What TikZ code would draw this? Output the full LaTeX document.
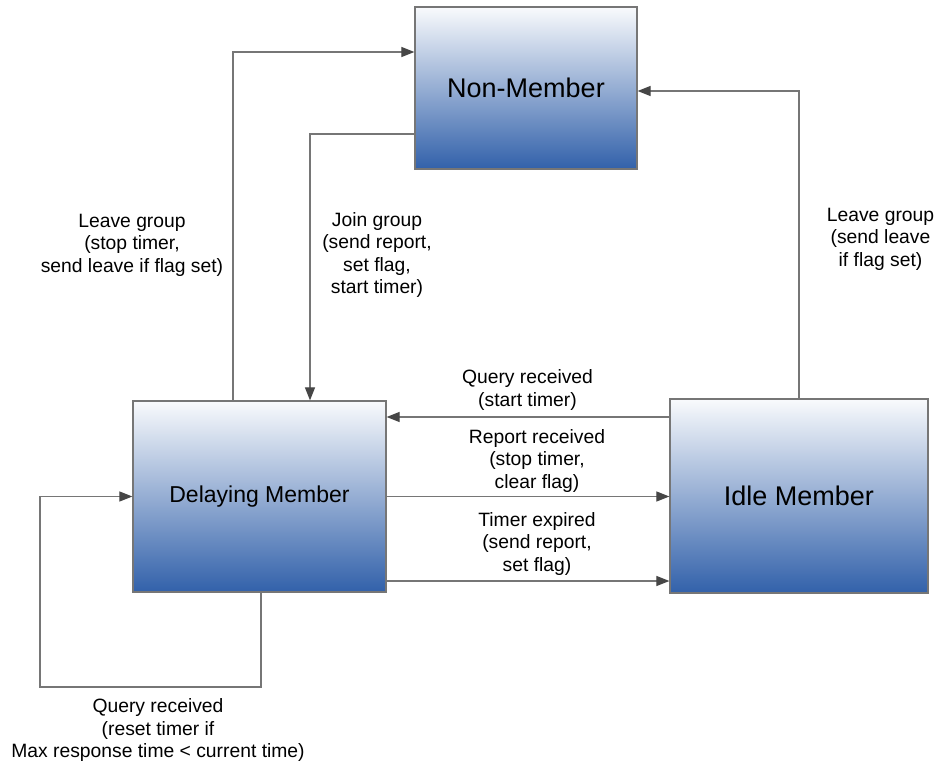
\documentclass[tikz,border=0pt]{standalone}
\usepackage{fontspec}
\setmainfont{Liberation Sans}
\usetikzlibrary{arrows.meta}
\definecolor{boxblue}{RGB}{50,97,170}
\definecolor{wiregray}{RGB}{118,118,118}
\definecolor{tipgray}{RGB}{70,70,70}

\begin{document}
\begin{tikzpicture}[x=1pt,y=-1pt,
    state/.style={draw=wiregray,line width=1.2pt,top color=white!97!boxblue,bottom color=boxblue,inner sep=0pt},
    wire/.style={draw=wiregray,line width=1.1pt,-{Triangle[length=13pt,width=10pt,color=tipgray]}},
    lbl/.style={align=center,font=\fontsize{19.3}{22.5}\selectfont,inner sep=0pt}]
      \path[use as bounding box] (0,0) rectangle (938,764);
      \node[state,minimum width=222pt,minimum height=162pt,font=\fontsize{27}{30}\selectfont] (nm) at (526,88) {Non-Member};
      \node[state,minimum width=253pt,minimum height=191pt,font=\fontsize{23}{26}\selectfont] (dm) at (259.5,496.5) {Delaying Member};
      \node[state,minimum width=258pt,minimum height=194pt,font=\fontsize{27}{30}\selectfont] (im) at (799,496) {Idle Member};
      \coordinate (loopcorner) at (40,687);
      \draw[wire] ([xshift=-26.5pt]dm.north) |- ([yshift=36pt]nm.west);
      \draw[wire] ([yshift=-46pt]nm.west) -| ([xshift=50.5pt]dm.north);
      \draw[wire] (im.north) |- ([yshift=-3pt]nm.east);
      \draw[wire] ([yshift=79pt]im.west) -- ([yshift=79pt]im.west -| dm.east);
      \draw[wire] (dm.east) -- (dm.east -| im.west);
      \draw[wire] ([yshift=-84.5pt]dm.east) -- ([yshift=-84.5pt]dm.east -| im.west);
      \draw[wire] ([xshift=1.5pt]dm.south) |- (loopcorner) |- (dm.west);
      \node[lbl] (leavedm) at (132,245) {Leave group\\(stop timer,\\send leave if flag set)};
      \node[lbl] (joinnm) at (377,255) {Join group\\(send report,\\set flag,\\start timer)};
      \node[lbl] (leaveim) at (880.5,239) {Leave group\\(send leave\\if flag set)};
      \node[lbl] (queryim) at (527.5,390) {Query received\\(start timer)};
      \node[lbl] (reportdm) at (537,461) {Report received\\(stop timer,\\clear flag)};
      \node[lbl] (timerdm) at (537,544) {Timer expired\\(send report,\\set flag)};
      \node[lbl] (querydm) at (158,730) {Query received\\(reset timer if\\Max response time < current time)};
    \end{tikzpicture}
\end{document}
